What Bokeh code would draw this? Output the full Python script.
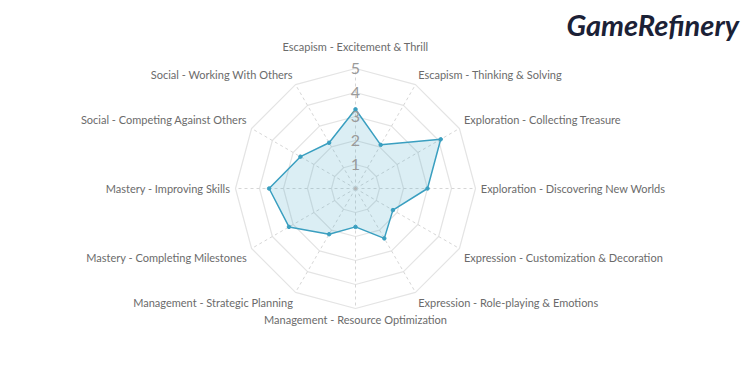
import numpy as np
from bokeh.plotting import figure
from bokeh.models import ColumnDataSource, Label
from bokeh.embed import file_html
from bokeh.resources import INLINE
from bokeh.core.properties import value

categories = [
    "Escapism - Excitement & Thrill",
    "Escapism - Thinking & Solving",
    "Exploration - Collecting Treasure",
    "Exploration - Discovering New Worlds",
    "Expression - Customization & Decoration",
    "Expression - Role-playing & Emotions",
    "Management - Resource Optimization",
    "Management - Strategic Planning",
    "Mastery - Completing Milestones",
    "Mastery - Improving Skills",
    "Social - Competing Against Others",
    "Social - Working With Others",
]
scores = [3.3, 2.1, 4.1, 3.0, 1.8, 2.4, 1.6, 2.2, 3.2, 3.6, 2.65, 2.2]
tick_values = [1, 2, 3, 4, 5]
tick_labels = ["1", "2", "3", "4", "5"]

W, H = 742, 363
PX = 24.0  # pixels per unit
cx, cy = 355, 188  # center in figure pixels
FONT = "Lato"

p = figure(width=W, height=H, output_backend="svg", toolbar_location=None,
           x_range=(-cx / PX, (W - cx) / PX), y_range=(-(H - cy) / PX, cy / PX),
           min_border=0, outline_line_color=None, tools="")
p.axis.visible = False
p.grid.visible = False
p.background_fill_color = "white"
p.border_fill_color = "white"

n = len(categories)
ang = np.arange(n) * 2 * np.pi / n
sx, cyv = np.sin(ang), np.cos(ang)
rmax = max(tick_values)

# rings
for t in tick_values:
    xs = list(t * sx) + [t * sx[0]]
    ys = list(t * cyv) + [t * cyv[0]]
    p.line(xs, ys, line_color="#e4e4e4", line_width=1.2)

# spokes
p.multi_line([[0, rmax * s] for s in sx], [[0, rmax * c] for c in cyv],
             line_color="#d6d6d6", line_width=1, line_dash="3 3")

# data polygon
vx = np.array(scores) * sx
vy = np.array(scores) * cyv
p.patch(list(vx), list(vy), fill_color="#3aa0c0", fill_alpha=0.18,
        line_color="#3a9fc0", line_width=1.5)
p.scatter(vx, vy, size=3.5, fill_color="#3a9fc0", line_color="#3a9fc0")
p.scatter([0], [0], size=3, fill_color="#b5b5b5", line_color=None)

# tick labels
p.text([0] * len(tick_values), tick_values, text=tick_labels,
       text_font=value(FONT), text_font_size="16px", text_color="#9a9a9a",
       text_align="center", text_baseline="middle")

# category labels
lx, ly, al = [], [], []
R = 5.22
for s, c in zip(sx, cyv):
    x = R * s
    y = R * c
    if c > 0.99:
        y += 0.7
    elif c > 0.01:
        y += 0.25
    elif c < -0.01:
        y -= 0.25
    lx.append(x)
    ly.append(y)
    al.append("left" if s > 0.01 else ("right" if s < -0.01 else "center"))
src = ColumnDataSource(dict(x=lx, y=ly, t=categories, a=al))
p.text("x", "y", text="t", source=src, text_align="a", text_baseline="middle",
       text_font=value(FONT), text_font_size="11px", text_color="#6b6b6b")

# logo
logo = Label(x=(566 - cx) / PX, y=(cy - 24) / PX, text="GameRefinery",
             text_font=FONT, text_font_size="29px", text_font_style="bold italic",
             text_color="#1b2136", text_baseline="middle", text_align="left")
p.add_layout(logo)

open("out.html", "w").write(file_html(p, INLINE))
